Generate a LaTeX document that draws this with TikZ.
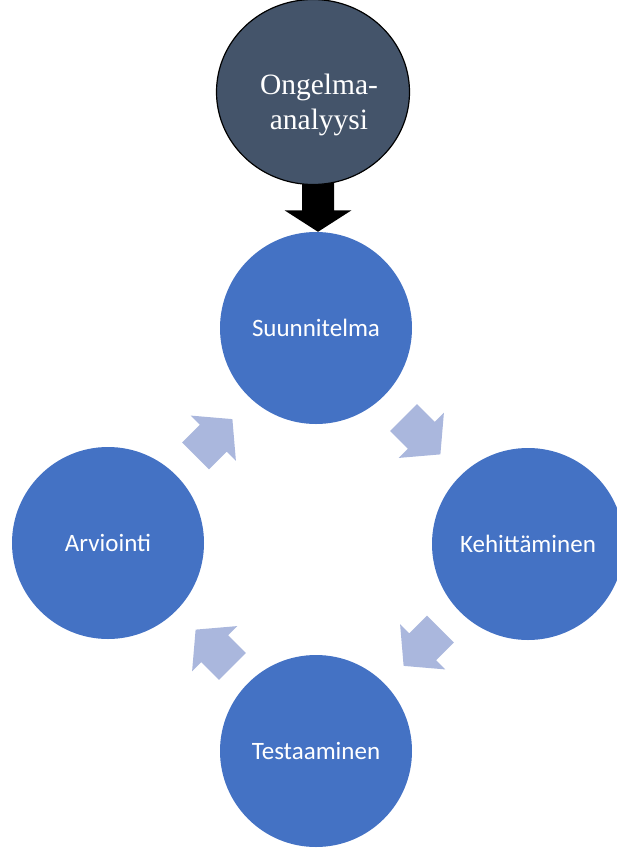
\documentclass[tikz,border=0pt]{standalone}
\usepackage{fontspec}
\setmainfont{Carlito}
\newfontfamily\serifnode{Liberation Serif}
\usetikzlibrary{shapes.geometric,calc,backgrounds}
\definecolor{cycblue}{HTML}{4472C4}
\definecolor{slate}{HTML}{44546A}
\definecolor{cyclight}{HTML}{AAB7DD}
\tikzset{
  stage/.style={circle, fill=cycblue, draw=none, minimum size=192pt, inner sep=0pt,
    text=white, font=\fontsize{25}{29}\selectfont},
  problem/.style={ellipse, fill=slate, draw=black, line width=1.2pt,
    minimum width=193pt, minimum height=185pt, inner sep=0pt},
  cycarrow/.pic={\fill[cyclight] (-26,-19) -- (-1,-19) -- (-1,-32) -- (26,0) -- (-1,32) -- (-1,19) -- (-26,19) -- cycle;},
  downarrow/.pic={\fill[black] (0,0) -- (-33.5,-21.5) -- (-16,-21.5) -- (-16,-62) -- (16,-62) -- (16,-21.5) -- (33.5,-21.5) -- cycle;}
}
\begin{document}
\begin{tikzpicture}[x=1pt,y=-1pt]
\useasboundingbox (0,0) rectangle (617,849);
\node[stage] (s) at (316,328) {Suunnitelma};
\node[stage] (k) at (528,544) {Kehittäminen};
\node[stage] (t) at (316,751) {Testaaminen};
\node[stage] (a) at (108,543) {Arviointi};
\node[problem] (o) at (313,92) {};
\node[text=white, align=center, font=\serifnode\fontsize{29.5}{35}\selectfont] (ot) at (319,105) {Ongelma-\\analyysi};
\begin{scope}[on background layer]
\pic at ([xshift=2pt]s.north) {downarrow};
\end{scope}
\pic[rotate=-45] at ($(s)!0.5!(k)$) {cycarrow};
\pic[rotate=-135] at ($(k)!0.5!(t)$) {cycarrow};
\pic[rotate=135] at ($(t)!0.5!(a)+(2,1)$) {cycarrow};
\pic[rotate=45] at ($(a)!0.5!(s)+(2,2)$) {cycarrow};
\end{tikzpicture}
\end{document}
